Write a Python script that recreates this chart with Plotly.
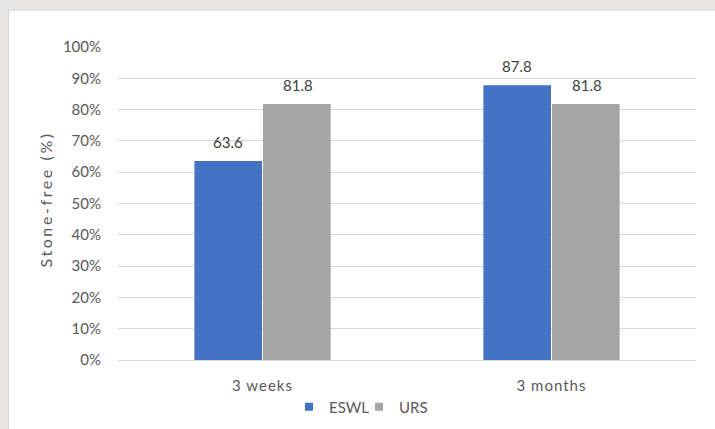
import plotly.graph_objects as go

categories = ["3 weeks", "3 months"]
eswl = [63.6, 87.8]
urs = [81.8, 81.8]
y_ticks = [0, 10, 20, 30, 40, 50, 60, 70, 80, 90, 100]
y_tick_labels = [f"{v}%" for v in y_ticks]
y_title = "Stone-free (%)"

W, H = 715, 429
L, R, T, B = 118, 19, 47, 69
pw, ph = W - L - R, H - T - B

def px_x(x):
    return (x - L) / pw

def px_y(y):
    return (H - B - y) / ph

def spaced(s, ls):
    return f"<span style='letter-spacing:{ls}px'>{s}</span>"

FONT = "Lato, 'Open Sans', sans-serif"
BLUE, GRAY = "#4472C4", "#A5A5A5"

fig = go.Figure()
fig.add_trace(go.Bar(name="ESWL", x=categories, y=eswl, marker=dict(color=BLUE, line=dict(width=0)), showlegend=False))
fig.add_trace(go.Bar(name="URS", x=categories, y=urs, marker=dict(color=GRAY, line=dict(width=0)), showlegend=False))
# legend entries with small square markers
fig.add_trace(go.Scatter(name="ESWL", x=[None], y=[None], mode="markers",
                         marker=dict(symbol="square", size=8, color=BLUE)))
fig.add_trace(go.Scatter(name="URS", x=[None], y=[None], mode="markers",
                         marker=dict(symbol="square", size=8, color=GRAY)))

annotations = []
for i, c in enumerate(categories):
    for j, vals in enumerate([eswl, urs]):
        annotations.append(dict(
            x=c, y=vals[i], xref="x", yref="y", text=f"{vals[i]}",
            showarrow=False, yanchor="middle", yshift=19,
            xshift=(-35 if j == 0 else 35),
            font=dict(family=FONT, size=15, color="#404040"),
        ))

shapes = [
    dict(type="rect", xref="paper", yref="paper",
         x0=px_x(8.5), x1=px_x(W + 30), y0=px_y(H + 30), y1=px_y(10),
         fillcolor="white", line=dict(color="#D6D6D6", width=1), layer="below"),
]

fig.update_layout(
    width=W, height=H,
    margin=dict(l=L, r=R, t=T, b=B, autoexpand=False),
    paper_bgcolor="#E9E7E4",
    plot_bgcolor="rgba(0,0,0,0)",
    barmode="group",
    bargap=0.525,
    bargroupgap=0.015,
    font=dict(family=FONT, size=15, color="#595959"),
    showlegend=True,
    legend=dict(orientation="h", x=px_x(289), xanchor="left", y=px_y(407), yanchor="middle",
                font=dict(family=FONT, size=15, color="#595959"),
                bgcolor="rgba(0,0,0,0)", itemwidth=30, entrywidth=25, entrywidthmode="pixels"),
    annotations=annotations,
    shapes=shapes,
    xaxis=dict(showgrid=False, showline=True, linecolor="#D9D9D9", linewidth=1,
               tickmode="array", tickvals=categories, ticktext=[spaced(c, 1) for c in categories],
               tickfont=dict(family=FONT, size=15, color="#595959"), ticklabelstandoff=12,
               ticks=""),
    yaxis=dict(range=[0, 100], tickmode="array", tickvals=y_ticks, ticktext=y_tick_labels,
               showgrid=True, gridcolor="#D9D9D9", gridwidth=1,
               zeroline=False, showline=False, ticks="",
               tickfont=dict(family=FONT, size=15, color="#595959"), ticklabelstandoff=16,
               title=dict(text="&nbsp;&nbsp;" + spaced(y_title, 2.6), font=dict(family=FONT, size=16, color="#595959"), standoff=6)),
)

fig.write_html("out.html")
